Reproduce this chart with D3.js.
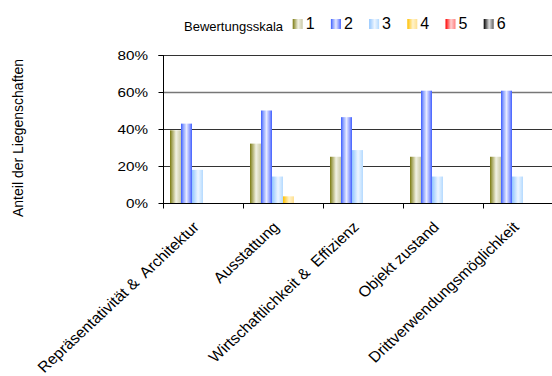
<!DOCTYPE html>
<html><head><meta charset="utf-8">
<script src="https://cdn.jsdelivr.net/npm/d3@7"></script>
<style>
html,body{margin:0;padding:0;background:#fff;}
svg{display:block;font-family:"Liberation Sans",Arial,sans-serif;}
text{white-space:pre;}
</style></head>
<body>
<svg id="chart" width="552" height="376"></svg>
<script>
const categories = ["Repräsentativität &  Architektur","Ausstattung","Wirtschaftlichkeit &  Effizienz","Objekt zustand","Drittverwendungsmöglichkeit"];
const seriesNames = ["1","2","3","4","5","6"];
const s1 = [39.3, 32.1, 25.0, 25.0, 25.0];
const s2 = [42.9, 50.0, 46.4, 60.7, 60.7];
const s3 = [17.9, 14.3, 28.6, 14.3, 14.3];
const s4 = [0, 3.6, 0, 0, 0];
const s5 = [0, 0, 0, 0, 0];
const s6 = [0, 0, 0, 0, 0];
const yTicks = [0, 20, 40, 60, 80];
const legendTitle = "Bewertungsskala";
const yTitle = "Anteil der Liegenschaften";

const seriesValues = [s1, s2, s3, s4, s5, s6];
const gradStops = [
  [[0,"#7a7a10"],[0.18,"#a4a45a"],[0.55,"#f2f2e4"],[1,"#c9c9a8"]],
  [[0,"#3a5cff"],[0.2,"#8aa0ff"],[0.5,"#e6eaff"],[0.8,"#8d9cff"],[1,"#3f5fff"]],
  [[0,"#92c6ff"],[0.55,"#eef6ff"],[1,"#b4daff"]],
  [[0,"#ffc000"],[0.55,"#fff3cc"],[1,"#ffe090"]],
  [[0,"#ff0000"],[0.55,"#ffd0d0"],[1,"#ff8080"]],
  [[0,"#000000"],[0.55,"#e0e0e0"],[1,"#606060"]]
];

const svg = d3.select("#chart");
const defs = svg.append("defs");
gradStops.forEach((st, i) => {
  const g = defs.append("linearGradient").attr("id", "g" + i)
    .attr("x1", "0%").attr("x2", "100%").attr("y1", "0%").attr("y2", "0%");
  st.forEach(s => g.append("stop").attr("offset", s[0]).attr("stop-color", s[1]));
});

const pLeft = 163, catW = 80, pTop = 55, pBottom = 203;
const x0 = d3.scaleBand().domain(categories).range([pLeft, pLeft + catW * categories.length]).padding(0);
const x1 = d3.scaleBand().domain(seriesNames).range([7, catW - 7]).padding(0);
const y = d3.scaleLinear().domain([0, 80]).range([pBottom, pTop]);

// gridlines
svg.append("g").selectAll("line").data(yTicks.filter(d => d > 0)).join("line")
  .attr("x1", pLeft).attr("x2", 552)
  .attr("y1", d => y(d) + 0.5).attr("y2", d => y(d) + 0.5)
  .attr("stroke", d => d === 60 ? "#777" : "#333").attr("stroke-width", d => d === 60 ? 1.5 : 1);

// bars
const groups = svg.append("g").selectAll("g").data(categories).join("g")
  .attr("transform", d => `translate(${x0(d)},0)`);
groups.selectAll("rect").data((c, ci) => seriesNames.map((s, si) => ({s, si, v: seriesValues[si][ci]})).filter(d => d.v > 0))
  .join("rect")
  .attr("x", d => x1(d.s)).attr("width", x1.bandwidth())
  .attr("y", d => y(d.v)).attr("height", d => pBottom - y(d.v))
  .attr("fill", d => `url(#g${d.si})`);

// y axis
const yAxis = d3.axisLeft(y).tickValues(yTicks).tickFormat(d => d + "%").tickSize(5).tickPadding(10);
const ya = svg.append("g").attr("transform", `translate(${pLeft + 0.5},0)`).call(yAxis);
ya.selectAll("text").attr("font-size", 13.5).attr("font-family", "Liberation Sans, Arial").attr("fill", "#000")
  .attr("x", 0).attr("transform", "translate(-15.5,0) scale(1.13,1)");
ya.selectAll("line,path").attr("stroke", "#000");
ya.select(".domain").attr("d", `M-5,${y(80)+0.5}H0V${pBottom+0.5}`);

// x axis
const xa = svg.append("g").attr("transform", `translate(0,${pBottom + 0.5})`);
xa.append("line").attr("x1", pLeft).attr("x2", 552).attr("stroke", "#000");
xa.selectAll(".tk").data(categories).join("line").attr("class", "tk")
  .attr("x1", d => x0(d) + 0.5).attr("x2", d => x0(d) + 0.5).attr("y1", 0).attr("y2", 5).attr("stroke", "#000");
svg.append("g").selectAll("text").data(categories).join("text")
  .attr("transform", d => `translate(${x0(d) + catW / 2 - 3},${pBottom + 25}) scale(1.07,1) rotate(-45)`)
  .attr("text-anchor", "end").attr("font-size", 15).attr("fill", "#000").text(d => d);

// y title
svg.append("text").attr("transform", `translate(23,138) rotate(-90)`)
  .attr("text-anchor", "middle").attr("font-size", 14).attr("fill", "#000").text(yTitle);

// legend
const lg = svg.append("g");
lg.append("text").attr("x", 184).attr("y", 31).attr("font-size", 13).attr("fill", "#000").text(legendTitle);
const li = lg.selectAll("g").data(seriesNames).join("g")
  .attr("transform", (d, i) => `translate(${292.7 + i * 38.2},0)`);
li.append("rect").attr("x", 0).attr("y", 19).attr("width", 10).attr("height", 10)
  .attr("fill", (d, i) => `url(#g${i})`);
li.append("text").attr("x", 13).attr("y", 29).attr("font-size", 16).attr("fill", "#000").text(d => d);
</script>
</body></html>
